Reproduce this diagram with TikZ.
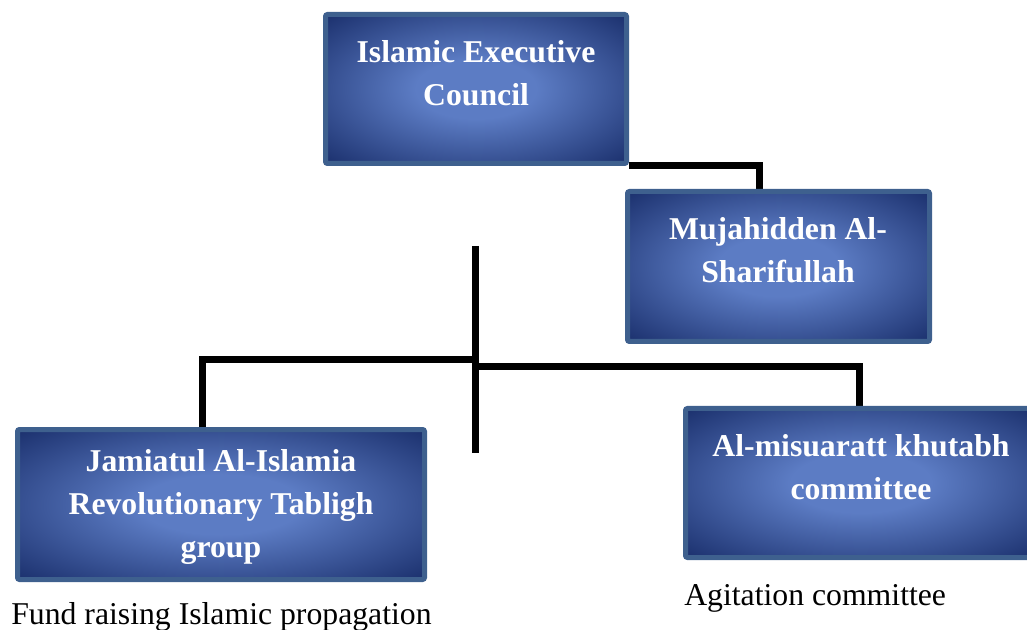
\documentclass[tikz,border=0pt]{standalone}
\usepackage{fontspec}
\setmainfont{Liberation Serif}
\usetikzlibrary{calc}
\pgfdeclarelayer{bg}
\pgfsetlayers{bg,main}
\definecolor{boxin}{RGB}{92,124,196}
\definecolor{boxout}{RGB}{20,40,100}
\definecolor{boxedge}{RGB}{62,96,142}
\pgfdeclareradialshading{boxglow}{\pgfpoint{0bp}{0bp}}{color(0bp)=(boxin); color(10bp)=(boxin); color(38bp)=(boxout); color(50bp)=(boxout)}
\tikzset{
  orgbox/.style={draw=boxedge, line width=3.75pt, rounded corners=1.5pt, shading=boxglow, inner sep=0pt},
  boxtext/.style={text=white, font=\bfseries\fontsize{23.8pt}{32.25pt}\selectfont, align=center, inner sep=0pt, anchor=base},
  caption/.style={text=black, font=\fontsize{23.8pt}{28pt}\selectfont, inner sep=0pt, anchor=base west},
  link/.style={draw=black, line width=5.25pt}
}
\begin{document}
\begin{tikzpicture}[x=0.75pt, y=-0.75pt]
\useasboundingbox (0,0) rectangle (1027,630);
\begin{scope}
\clip (0,0) rectangle (1027,630);
\node[orgbox, minimum width=225.75pt, minimum height=111.75pt] (b1) at (476,89) {};
\node[orgbox, minimum width=226.5pt, minimum height=112.5pt] (b2) at (778.5,266.5) {};
\node[orgbox, minimum width=305.25pt, minimum height=112.5pt] (b3) at (221,504.5) {};
\node[orgbox, minimum width=263.25pt, minimum height=111.75pt] (b4) at (861,483) {};
\end{scope}
\node[boxtext] (l1) at (476,106) {Islamic Executive\\Council};
\node[boxtext] (l2) at (778,283) {Mujahidden Al-\\Sharifullah};
\node[boxtext] (l3) at (221,557) {Jamiatul Al-Islamia\\Revolutionary Tabligh\\group};
\node[boxtext] (l4) at (861,499) {Al-misuaratt khutabh\\committee};
\node[caption] (c1) at (11,624) {Fund raising Islamic propagation};
\node[caption] (c2) at (684,605) {Agitation committee};
\coordinate (t1) at (475,246);
\coordinate (t2) at (475,453);
\coordinate (jl) at (475,360);
\coordinate (jr) at (475,367);
\begin{pgfonlayer}{bg}
\draw[link] (b1.south east) -| ($(b2.north)+(-19,0)$);
\draw[link] (t1) -- (t2);
\draw[link] (jl) -| ($(b3.north)+(-19,0)$);
\draw[link] (jr) -| ($(b4.north)+(-2,0)$);
\end{pgfonlayer}
\end{tikzpicture}
\end{document}
